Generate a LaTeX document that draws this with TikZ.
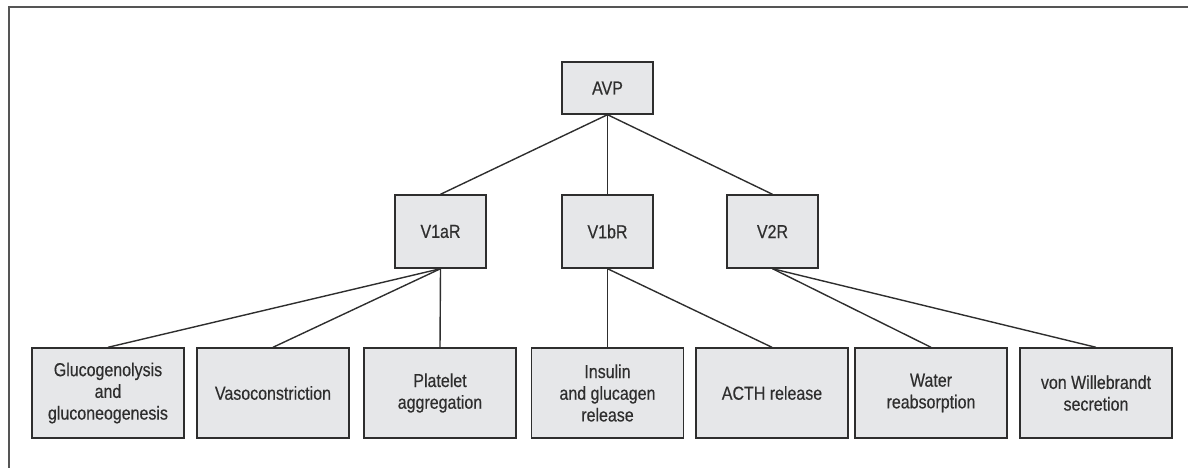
\documentclass[tikz,border=0pt]{standalone}
\usepackage{fontspec}
\setmainfont{Liberation Sans}[FakeStretch=0.85,FakeBold=0.4]
\definecolor{boxfill}{HTML}{E6E7E9}
\definecolor{boxline}{HTML}{2E2E2E}
\definecolor{frameline}{HTML}{555555}

\begin{document}
\begin{tikzpicture}[x=1pt,y=-1pt,
  box/.style={draw=boxline,fill=boxfill,line width=1.4pt,inner sep=0pt,align=center,
    text=boxline,font=\fontsize{18.8}{21.7}\selectfont},
  recbox/.style={box,minimum width=91pt,minimum height=73pt},
  leafbox/.style={box,minimum width=152pt,minimum height=90pt},
  link/.style={draw=boxline,line width=1.4pt}]
\useasboundingbox (0,0) rectangle (1188,468);
\draw[frameline,line width=1.8pt] (9,468) -- (9,7) -- (1188,7);

% hormone and receptors
\node[box,minimum width=91pt,minimum height=52pt] (avp) at (607.5,88) {AVP};
\node[recbox] (v1a) at (440.5,231.5) {V1aR};
\node[recbox] (v1b) at (607.5,231.5) {V1bR};
\node[recbox] (v2) at (772.5,231.5) {V2R};

% effects
\node[leafbox] (gluco) at (108,393) {Glucogenolysis\\and\\gluconeogenesis};
\node[leafbox] (vaso) at (273,393) {Vasoconstriction};
\node[leafbox] (plat) at (440,393) {Platelet\\aggregation};
\node[leafbox] (insu) at (607.5,393) {Insulin\\and glucagen\\release};
\node[leafbox] (acth) at (772,393) {ACTH release};
\node[leafbox] (water) at (931,393) {Water\\reabsorption};
\node[leafbox] (vwf) at (1096,393) {von Willebrandt\\secretion};

\foreach \r in {v1a,v1b,v2}
  \draw[link] (avp.south) -- (\r.north);
\foreach \e in {gluco,vaso,plat}
  \draw[link] (v1a.south) -- (\e.north);
\foreach \e in {insu,acth}
  \draw[link] (v1b.south) -- (\e.north);
\foreach \e in {water,vwf}
  \draw[link] (v2.south) -- (\e.north);
\end{tikzpicture}
\end{document}
